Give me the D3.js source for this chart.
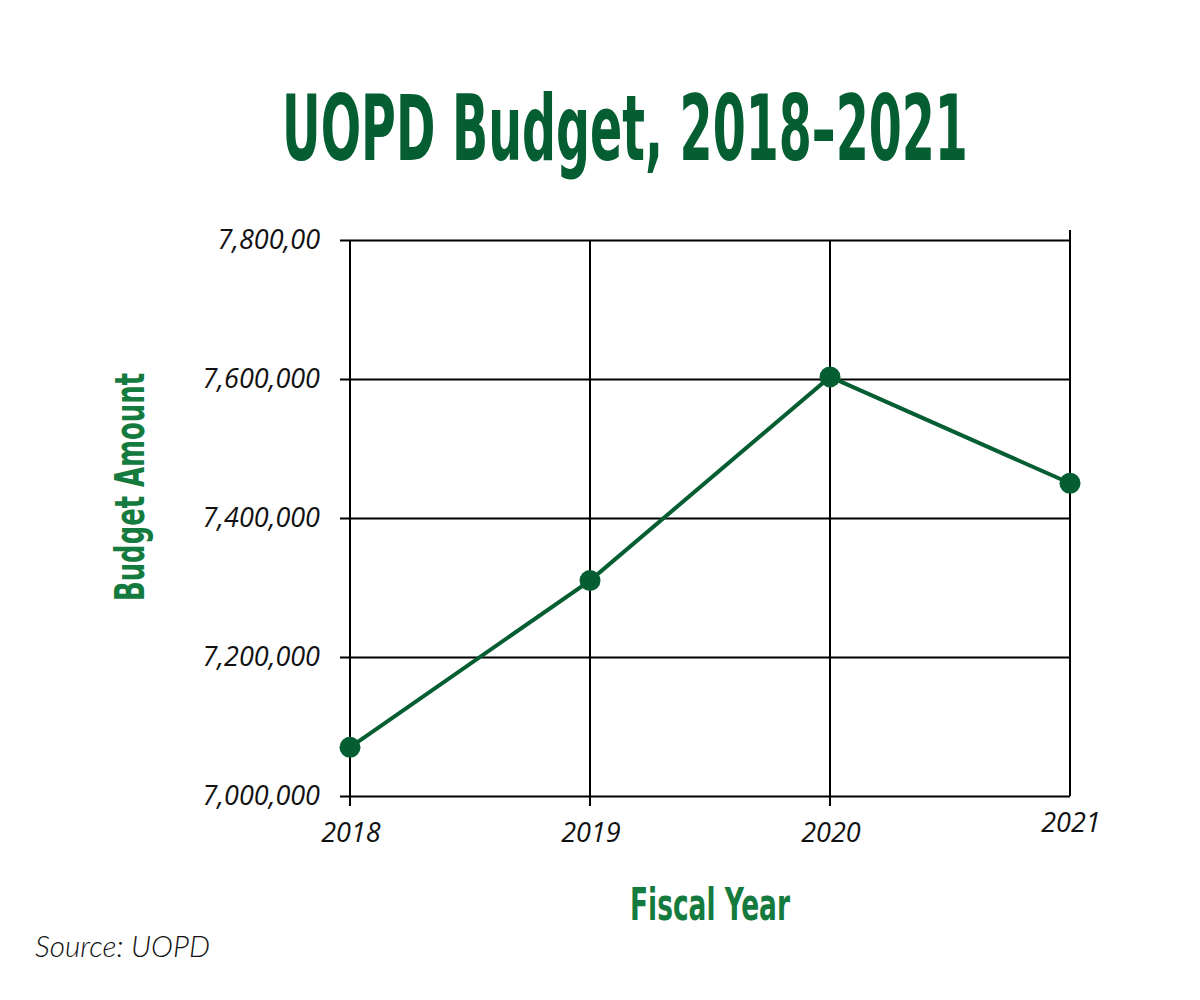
<!DOCTYPE html>
<html><head><meta charset="utf-8">
<script src="https://cdn.jsdelivr.net/npm/d3@7"></script>
<style>body{margin:0;background:#fff}</style>
</head><body>
<svg id="c" width="1200" height="1000"></svg>
<script>
const years = [2018, 2019, 2020, 2021];
const budget = [7070000, 7310000, 7603000, 7450000];
const yTicks = [7000000, 7200000, 7400000, 7600000, 7800000];
const yTickLabels = ["7,000,000", "7,200,000", "7,400,000", "7,600,000", "7,800,00"];
const xTickLabels = ["2018", "2019", "2020", "2021"];

const svg = d3.select("#c");
const x = d3.scaleLinear().domain([2018, 2021]).range([350, 1070]);
const y = d3.scaleLinear().domain([7000000, 7800000]).range([796, 240]);
const dark = "#045e32", green = "#147a3e";
const narrow = "'Liberation Sans Narrow', 'DejaVu Sans Condensed', sans-serif";
const tickFont = "'Open Sans', sans-serif";

// title (scaled horizontally to fit the reference width)
const title = svg.append("text").attr("x", 0).attr("y", 0).attr("text-anchor", "middle")
  .attr("font-family", narrow)
  .attr("font-weight", "bold").attr("font-size", 90).attr("fill", dark)
  .text("UOPD Budget, 2018\u20132021");
const tw = title.node().getComputedTextLength();
title.attr("transform", `translate(625,160) scale(${686 / tw},1)`);

// horizontal grid + y axis
const yAxis = d3.axisLeft(y).tickValues(yTicks)
  .tickFormat((d, i) => yTickLabels[i]).tickSize(-(x(2021) - 340)).tickPadding(20);
const gy = svg.append("g").attr("transform", "translate(340,0)").call(yAxis);
gy.select(".domain").remove();
gy.selectAll(".tick line").attr("stroke", "#000").attr("stroke-width", 2).attr("x1", 0);
gy.selectAll(".tick text").attr("font-family", tickFont)
  .attr("font-style", "italic").attr("font-weight", 500).attr("font-size", 27).attr("fill", "#111");

// vertical grid + x axis
const gx = svg.append("g");
gx.selectAll("line").data(years).join("line")
  .attr("x1", d => x(d)).attr("x2", d => x(d))
  .attr("y1", d => d === 2021 ? y(7800000) - 10 : y(7800000))
  .attr("y2", d => d === 2021 ? y(7000000) : y(7000000) + 10)
  .attr("stroke", "#000").attr("stroke-width", 2);
gx.selectAll("text").data(years).join("text")
  .attr("x", d => x(d) + 1).attr("y", (d, i) => i === 3 ? 832 : 842)
  .attr("text-anchor", "middle")
  .attr("font-family", tickFont)
  .attr("font-style", "italic").attr("font-weight", 500).attr("font-size", 27).attr("fill", "#111")
  .text((d, i) => xTickLabels[i]);

// line + points
const pts = years.map((d, i) => [d, budget[i]]);
svg.append("path").datum(pts)
  .attr("d", d3.line().x(d => x(d[0])).y(d => y(d[1])))
  .attr("fill", "none").attr("stroke", dark).attr("stroke-width", 4);
svg.selectAll("circle.pt").data(pts).join("circle").attr("class", "pt")
  .attr("cx", d => x(d[0])).attr("cy", d => y(d[1])).attr("r", 10.5).attr("fill", dark);

// axis titles
svg.append("text").attr("transform", "translate(144,487) rotate(-90)")
  .attr("text-anchor", "middle")
  .attr("font-family", narrow)
  .attr("font-weight", "bold").attr("font-size", 40).attr("fill", green)
  .attr("textLength", 228).attr("lengthAdjust", "spacingAndGlyphs")
  .text("Budget Amount");
svg.append("text").attr("x", 710).attr("y", 920).attr("text-anchor", "middle")
  .attr("font-family", narrow)
  .attr("font-weight", "bold").attr("font-size", 44).attr("fill", green)
  .attr("textLength", 160).attr("lengthAdjust", "spacingAndGlyphs")
  .text("Fiscal Year");

// source
svg.append("text").attr("x", 35).attr("y", 957)
  .attr("font-family", "Lato, 'Open Sans', sans-serif")
  .attr("font-style", "italic").attr("font-weight", 300).attr("font-size", 29).attr("fill", "#111")
  .attr("textLength", 175).attr("lengthAdjust", "spacingAndGlyphs")
  .text("Source: UOPD");
</script>
</body></html>
